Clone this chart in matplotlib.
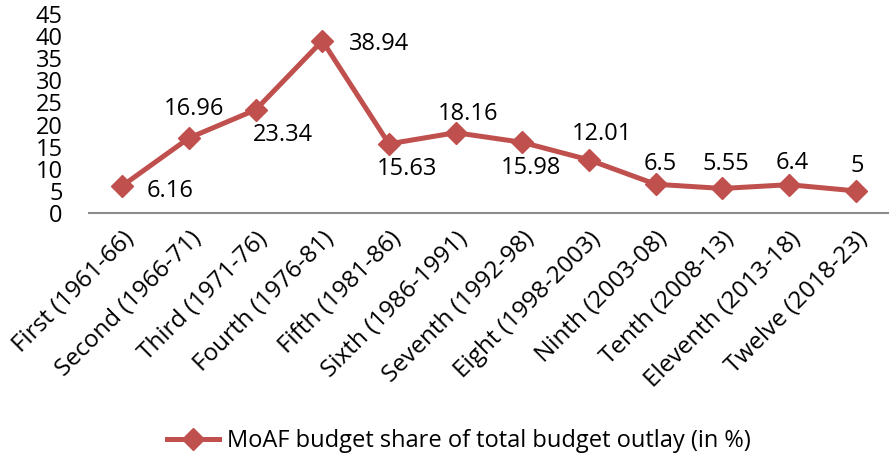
import matplotlib.pyplot as plt

plt.rcParams['font.family'] = ['Open Sans', 'DejaVu Sans']

# Plan periods and MoAF budget share (%)
plans = ['First (1961-66)', 'Second (1966-71)', 'Third (1971-76)', 'Fourth (1976-81)',
         'Fifth (1981-86)', 'Sixth (1986-1991)', 'Seventh (1992-98)', 'Eight (1998-2003)',
         'Ninth (2003-08)', 'Tenth (2008-13)', 'Eleventh (2013-18)', 'Twelve (2018-23)']
share = [6.16, 16.96, 23.34, 38.94, 15.63, 18.16, 15.98, 12.01, 6.5, 5.55, 6.4, 5]
labels = ['6.16', '16.96', '23.34', '38.94', '15.63', '18.16', '15.98', '12.01', '6.5', '5.55', '6.4', '5']

# label offsets in pixels (dx, dy up)
offsets = [(48, -5), (5, 29), (27, -25), (57, -3), (18, -25), (12, 19),
           (9, -26), (13, 26), (5, 20), (4, 24), (3, 22), (2, 25)]

red = '#C0504D'

fig = plt.figure(figsize=(8.89, 4.61), dpi=100)
ax = fig.add_axes([89 / 889, 1 - 213 / 461, 800 / 889, 199 / 461])

x = range(len(plans))
ax.plot(x, share, color=red, lw=3.6, marker='D', markersize=11.5,
        label='MoAF budget share of total budget outlay (in %)')

for i, (v, t) in enumerate(zip(share, labels)):
    dx, dy = offsets[i]
    ax.annotate(t, (i, v), xytext=(dx * 0.72, dy * 0.72), textcoords='offset points',
                ha='center', va='center', fontsize=17, color='black')

ax.set_xlim(-0.5, len(plans) - 0.5)
ax.set_ylim(0, 45)
ax.set_yticks(range(0, 46, 5))
ax.set_xticks(list(x))
ax.set_xticklabels(plans, rotation=45, ha='right', rotation_mode='anchor', fontsize=17.5)
ax.tick_params(axis='y', labelsize=17, length=0, pad=19)
ax.tick_params(axis='x', length=0, pad=10)

for s in ['top', 'right', 'left']:
    ax.spines[s].set_visible(False)
ax.spines['bottom'].set_color('#8c8c8c')
ax.spines['bottom'].set_linewidth(1.5)

fig.legend(loc='center', bbox_to_anchor=(0.516, 1 - 441 / 461), frameon=False, fontsize=17,
           handlelength=2.2, handletextpad=0.35)

fig.savefig('out.png', dpi=100)
